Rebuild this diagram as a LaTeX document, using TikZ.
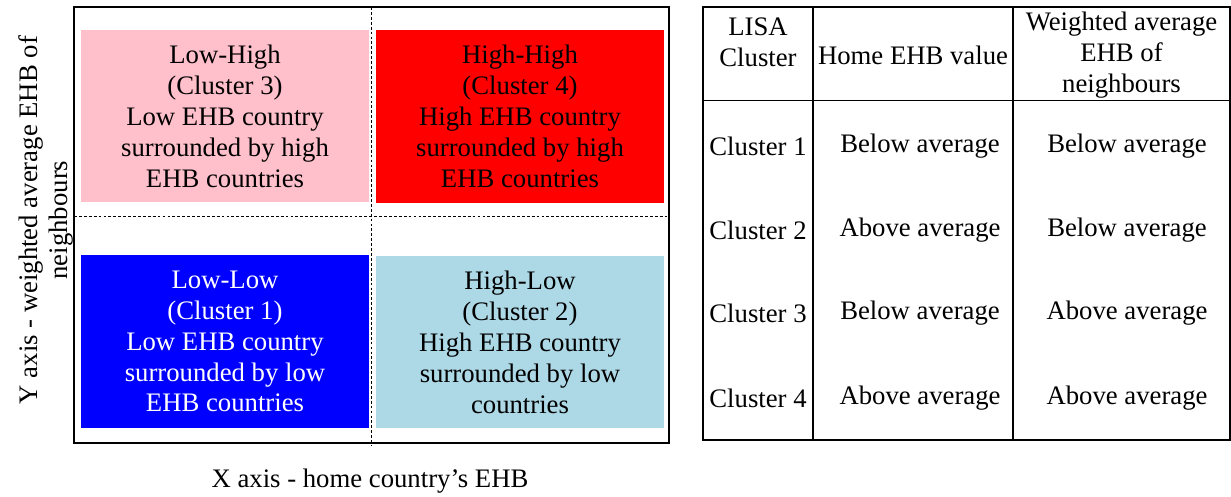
\documentclass[tikz,border=0pt]{standalone}
\usepackage{fontspec}
\setmainfont{Liberation Serif}
\usepackage{tikz}

\definecolor{llpink}{RGB}{255,192,203}
\definecolor{hhred}{RGB}{255,0,0}
\definecolor{llblue}{RGB}{0,0,255}
\definecolor{hllblue}{RGB}{173,216,230}

\tikzset{
  txt/.style={font=\fontsize{19}{22}\selectfont, align=center, inner sep=0pt},
  quad/.style={txt, minimum width=7.2cm, minimum height=4.3cm},
  frame/.style={line width=1.3pt},
  split/.style={line width=0.6pt, dash pattern=on 2pt off 1.5pt}
}

\begin{document}
\begin{tikzpicture}[x=0.025cm, y=-0.025cm]
    \useasboundingbox (0,0) rectangle (1231,496);

    % quadrant chart
    \draw[frame] (74,7) rectangle (669,443);
    \coordinate (vtop) at (371.5,7);
    \coordinate (vbot) at (371.5,446);
    \coordinate (hleft) at (74,216.5);
    \coordinate (hright) at (669,216.5);

    \node[quad, fill=llpink] (lowhigh) at (225,116) {Low-High\\(Cluster 3)\\Low EHB country\\surrounded by high\\EHB countries};
    \node[quad, fill=hhred] (highhigh) at (520,116.5) {High-High\\(Cluster 4)\\High EHB country\\surrounded by high\\EHB countries};
    \node[quad, fill=llblue, text=white] (lowlow) at (225,341.5) {Low-Low\\(Cluster 1)\\Low EHB country\\surrounded by low\\EHB countries};
    \node[quad, fill=hllblue] (highlow) at (520,342) {High-Low\\(Cluster 2)\\High EHB country\\surrounded by low\\countries};

    \draw[split] (vtop) -- (vbot);
    \draw[split] (hleft) -- (hright);

    \node[txt, rotate=90] (yaxis) at (46,220) {Y axis - weighted average EHB of\\neighbours};
    \node[txt] (xaxis) at (370,481) {X axis - home country’s EHB};

    % table
    \draw[frame] (703,7) rectangle (1230,440);
    \draw[frame] (703,100.5) -- (1230,100.5);
    \draw[frame] (813,7) -- (813,440);
    \draw[frame] (1013,7) -- (1013,440);

    \node[txt] (hlisa) at (758,42) {LISA\\Cluster};
    \node[txt] (hhome) at (913,55) {Home EHB value};
    \node[txt] (hweight) at (1121.5,55) {Weighted average\\EHB of\\neighbours};

    \node[txt] (c1) at (758,146) {Cluster 1};
    \node[txt] (c2) at (758,230) {Cluster 2};
    \node[txt] (c3) at (758,313) {Cluster 3};
    \node[txt] (c4) at (758,398) {Cluster 4};

    \node[txt] (h1) at (920,146) {Below average};
    \node[txt] (h2) at (920,230) {Above average};
    \node[txt] (h3) at (920,313) {Below average};
    \node[txt] (h4) at (920,398) {Above average};

    \node[txt] (w1) at (1127,146) {Below average};
    \node[txt] (w2) at (1127,230) {Below average};
    \node[txt] (w3) at (1127,313) {Above average};
    \node[txt] (w4) at (1127,398) {Above average};
\end{tikzpicture}
\end{document}
